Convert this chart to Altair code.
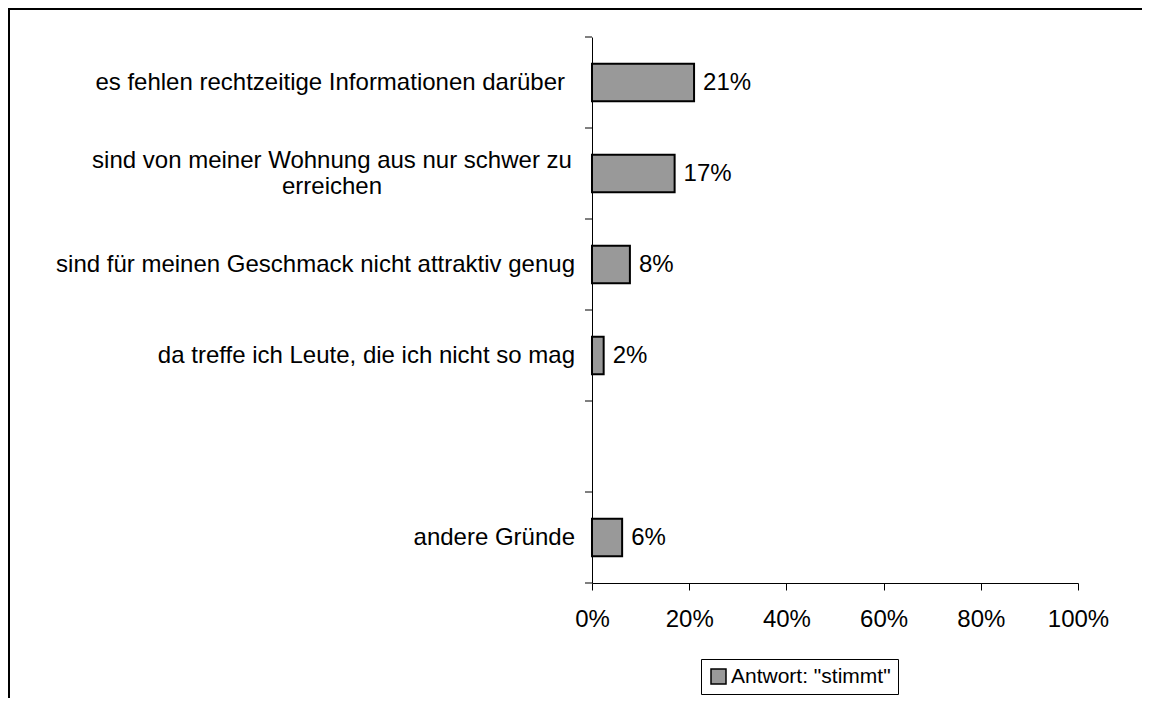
import altair as alt
import pandas as pd

categories = [
    "es fehlen rechtzeitige Informationen darüber",
    "sind von meiner Wohnung aus nur schwer zu\nerreichen",
    "sind für meinen Geschmack nicht attraktiv genug",
    "da treffe ich Leute, die ich nicht so mag",
    " ",
    "andere Gründe",
]
label_kind = ["wide", "multi", "right", "right", "right", "right"]
values = [21, 17, 7.8, 2.4, None, 6.2]
value_labels = ["21%", "17%", "8%", "2%", "", "6%"]
series_name = 'Antwort: "stimmt"'
x_ticks = [0, 20, 40, 60, 80, 100]
boundaries = [0, 1, 2, 3, 4, 5, 6]

FONT = "Liberation Sans"
FS = 24
W, H = 486, 546
PAD = {"left": 584, "top": 29, "right": 64, "bottom": 115}

df = pd.DataFrame({
    "cat": categories,
    "kind": label_kind,
    "value": values,
    "label": value_labels,
    "series": [series_name] * len(categories),
})

band_scale = alt.Scale(domain=categories, paddingInner=0.59, paddingOuter=0.295)
yband = alt.Y(
    "cat:N", sort=categories, scale=band_scale,
    axis=alt.Axis(labels=False, ticks=False, domain=True, domainColor="black",
                  title=None, grid=False),
)
yband_plain = alt.Y("cat:N", sort=categories, scale=band_scale, axis=None)

base = alt.Chart(df)

bars = base.transform_filter("isValid(datum.value)").mark_bar(
    stroke="black", strokeWidth=2
).encode(
    x=alt.X("value:Q", scale=alt.Scale(domain=[0, 100]),
            axis=alt.Axis(values=x_ticks, labelExpr="datum.value + '%'",
                          labelFontSize=FS, labelFont=FONT, labelColor="black",
                          labelFlush=False, tickColor="black", tickSize=7,
                          domainColor="black", labelPadding=17, title=None,
                          grid=False)),
    y=yband,
    color=alt.Color("series:N", scale=alt.Scale(range=["#999999"]),
                    legend=alt.Legend(orient="none", legendX=109, legendY=622,
                                      title=None, strokeColor="black",
                                      fillColor="white", padding=7,
                                      symbolType="square", symbolSize=225,
                                      symbolStrokeColor="black",
                                      symbolStrokeWidth=1.5,
                                      labelFontSize=21, labelFont=FONT,
                                      labelColor="black", labelOffset=2)),
)

value_text = base.transform_filter("isValid(datum.value)").mark_text(
    align="left", baseline="middle", dx=9, fontSize=FS, font=FONT, color="black"
).encode(x="value:Q", y=yband_plain, text="label:N")

cat_text = base.transform_filter("datum.kind == 'right'").mark_text(
    align="right", baseline="middle", fontSize=FS, font=FONT, color="black"
).encode(x=alt.value(-17), y=yband_plain, text="cat:N")

cat_text_wide = base.transform_filter("datum.kind == 'wide'").mark_text(
    align="right", baseline="middle", fontSize=FS, font=FONT, color="black"
).encode(x=alt.value(-27), y=yband_plain, text="cat:N")

cat_text_multi = base.transform_filter("datum.kind == 'multi'").mark_text(
    align="center", baseline="middle", fontSize=FS, font=FONT, color="black",
    lineBreak="\n", lineHeight=26, dy=-13
).encode(x=alt.value(-260), y=yband_plain, text="cat:N")

ticks_df = pd.DataFrame({"b": boundaries})
y_ticks = alt.Chart(ticks_df).mark_rule(color="black", strokeWidth=1).encode(
    y=alt.Y("b:Q", scale=alt.Scale(domain=[0, 6]), axis=None),
    x=alt.value(-7), x2=alt.value(0),
)

one = pd.DataFrame({"a": [0]})
frame_left = alt.Chart(one).mark_rule(color="black", strokeWidth=2).encode(
    x=alt.value(-583), y=alt.value(-28), y2=alt.value(H + PAD["bottom"])
)
frame_top = alt.Chart(one).mark_rule(color="black", strokeWidth=2).encode(
    x=alt.value(-584), x2=alt.value(W + PAD["right"]), y=alt.value(-28)
)

chart = alt.layer(
    bars, value_text, cat_text, cat_text_wide, cat_text_multi, y_ticks,
    frame_left, frame_top
).resolve_scale(y="independent").properties(
    width=W, height=H,
    autosize=alt.AutoSizeParams(type="none"),
    padding=PAD,
    background="white",
).configure_view(strokeWidth=0, stroke="transparent")

chart.save("out.html", embed_options={"renderer": "svg", "actions": False})
